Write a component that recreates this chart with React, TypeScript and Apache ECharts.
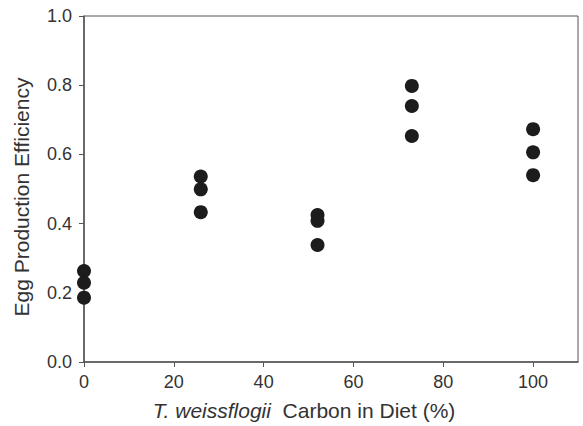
import React, { useEffect, useRef } from "react";
import * as echarts from "echarts";

const xValues: number[] = [0, 0, 0, 26, 26, 26, 52, 52, 52, 73, 73, 73, 100, 100, 100];
const yValues: number[] = [0.263, 0.229, 0.186, 0.536, 0.499, 0.433, 0.425, 0.408, 0.338, 0.798, 0.74, 0.653, 0.673, 0.606, 0.54];
const xTicks: number[] = [0, 20, 40, 60, 80, 100];
const yTicks: number[] = [0, 0.2, 0.4, 0.6, 0.8, 1.0];

export default function App() {
  const ref = useRef<HTMLDivElement>(null);
  useEffect(() => {
    if (!ref.current) return;
    const chart = echarts.init(ref.current, null, { renderer: "svg" });
    const font = "Liberation Sans, Arial, sans-serif";
    const axisColor = "#555";
    chart.setOption({
      animation: false,
      backgroundColor: "#fff",
      grid: {
        left: 84,
        right: 5,
        top: 16,
        bottom: 64,
        show: true,
        borderColor: axisColor,
        borderWidth: 1,
        backgroundColor: "transparent",
      },
      xAxis: {
        type: "value",
        min: 0,
        max: 110,
        interval: 20,
        splitLine: { show: false },
        axisLine: { show: true, onZero: false, lineStyle: { color: axisColor, width: 1.5 } },
        axisTick: { show: true, length: 5, customValues: xTicks, lineStyle: { color: axisColor } },
        axisLabel: {
          customValues: xTicks,
          color: "#333",
          fontSize: 18,
          fontFamily: font,
          margin: 11,
        },
        name: "{i|T. weissflogii}{n|  Carbon in Diet (%)}",
        nameLocation: "middle",
        nameGap: 38,
        nameTextStyle: {
          padding: [0, 54, 0, 0],
          rich: {
            i: { fontStyle: "italic", fontSize: 21, color: "#333", fontFamily: font },
            n: { fontSize: 21, color: "#333", fontFamily: font },
          },
        },
      },
      yAxis: {
        type: "value",
        min: 0,
        max: 1,
        interval: 0.2,
        splitLine: { show: false },
        axisLine: { show: true, onZero: false, lineStyle: { color: axisColor, width: 1.5 } },
        axisTick: { show: true, length: 5, customValues: yTicks, lineStyle: { color: axisColor } },
        axisLabel: {
          customValues: yTicks,
          color: "#333",
          fontSize: 18,
          fontFamily: font,
          margin: 12,
          formatter: (v: number) => v.toFixed(1),
        },
        name: "Egg Production Efficiency",
        nameLocation: "middle",
        nameGap: 52,
        nameTextStyle: { fontSize: 21, color: "#333", fontFamily: font, padding: [0, 16, 0, 0] },
      },
      series: [
        {
          type: "scatter",
          data: xValues.map((x, i) => [x, yValues[i]]),
          symbol: "circle",
          symbolSize: 14,
          itemStyle: { color: "#1c1c1c", opacity: 1 },
        },
      ],
    });
    return () => chart.dispose();
  }, []);
  return <div ref={ref} style={{ width: 583, height: 426, position: "absolute", left: 0, top: 0 }} />;
}
